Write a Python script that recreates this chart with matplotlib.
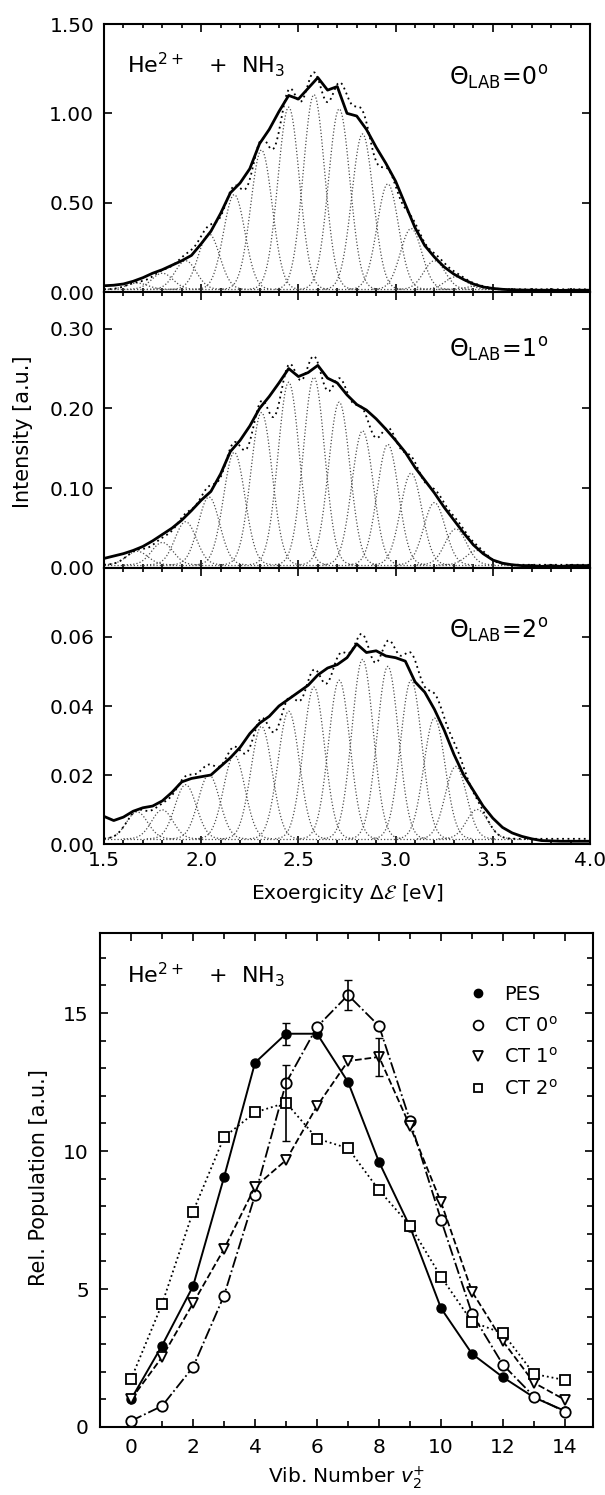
import numpy as np
import matplotlib.pyplot as plt
from matplotlib.lines import Line2D
from matplotlib.ticker import FormatStrFormatter, MultipleLocator

# energy grid of the read-off spectra (eV)
energy = np.round(np.arange(1.50, 4.001, 0.05), 2)

meas_0 = [0.035, 0.038, 0.045, 0.060, 0.080, 0.105, 0.125, 0.150, 0.175, 0.205,
          0.270, 0.340, 0.440, 0.555, 0.610, 0.690, 0.830, 0.910, 1.010, 1.100,
          1.080, 1.140, 1.200, 1.130, 1.150, 1.000, 0.985, 0.910, 0.810, 0.720,
          0.620, 0.490, 0.360, 0.260, 0.195, 0.140, 0.100, 0.070, 0.045, 0.028,
          0.020, 0.015, 0.012, 0.011, 0.010, 0.010, 0.010, 0.009, 0.010, 0.010,
          0.010]
meas_1 = [0.012, 0.015, 0.018, 0.022, 0.027, 0.034, 0.042, 0.050, 0.060, 0.072,
          0.085, 0.096, 0.118, 0.146, 0.160, 0.178, 0.200, 0.215, 0.232, 0.250,
          0.240, 0.245, 0.254, 0.238, 0.232, 0.217, 0.205, 0.198, 0.187, 0.174,
          0.160, 0.145, 0.126, 0.110, 0.094, 0.076, 0.060, 0.044, 0.029, 0.018,
          0.010, 0.006, 0.004, 0.003, 0.003, 0.002, 0.003, 0.002, 0.003, 0.003,
          0.003]
meas_2 = [0.0080, 0.0068, 0.0078, 0.0095, 0.0105, 0.0110, 0.0125, 0.0150, 0.0180, 0.0190,
          0.0195, 0.0200, 0.0225, 0.0250, 0.0280, 0.0320, 0.0350, 0.0370, 0.0400, 0.0420,
          0.0440, 0.0460, 0.0490, 0.0510, 0.0520, 0.0540, 0.0580, 0.0555, 0.0560, 0.0545,
          0.0540, 0.0530, 0.0470, 0.0440, 0.0390, 0.0330, 0.0260, 0.0200, 0.0155, 0.0110,
          0.0075, 0.0048, 0.0032, 0.0022, 0.0015, 0.0010, 0.0009, 0.0008, 0.0008, 0.0008,
          0.0008]

# fitted gaussian components, v = 0..14
centers = [3.42, 3.31, 3.20, 3.08, 2.96, 2.83, 2.71, 2.58, 2.45, 2.31, 2.17, 2.04, 1.92, 1.80, 1.67]
width = 0.055
amp_0 = [0.018, 0.07, 0.16, 0.34, 0.59, 0.87, 1.01, 1.09, 1.02, 0.78, 0.53, 0.31, 0.16, 0.09, 0.035]
amp_1 = [0.018, 0.045, 0.078, 0.115, 0.151, 0.168, 0.204, 0.235, 0.229, 0.191, 0.141, 0.085, 0.054, 0.028, 0.017]
amp_2 = [0.0085, 0.021, 0.035, 0.046, 0.050, 0.052, 0.046, 0.044, 0.037, 0.0326, 0.0243, 0.0186, 0.0157, 0.0084, 0.0078]
background = [0.015, 0.004, 0.0015]
angles = ['0', '1', '2']

# relative populations
vib = list(range(15))
pes = [1.0, 2.95, 5.1, 9.05, 13.2, 14.25, 14.25, 12.5, 9.6, 7.25, 4.3, 2.65, 1.8, 1.07, 0.58]
ct0 = [0.22, 0.76, 2.17, 4.76, 8.4, 12.47, 14.5, 15.65, 14.53, 11.1, 7.5, 4.1, 2.25, 1.1, 0.55]
ct1 = [1.0, 2.53, 4.48, 6.45, 8.7, 9.67, 11.63, 13.26, 13.41, 10.9, 8.14, 4.9, 3.1, 1.6, 0.98]
ct2 = [1.73, 4.45, 7.8, 10.5, 11.4, 11.75, 10.45, 10.1, 8.58, 7.3, 5.44, 3.81, 3.39, 1.92, 1.7]

plt.rcParams['font.family'] = ['DejaVu Sans']
plt.rcParams['mathtext.fontset'] = 'dejavusans'

W, H = 605, 1495
fig = plt.figure(figsize=(W / 100, H / 100), dpi=100)

def px_axes(left, top, right, bottom):
    return [left / W, 1 - bottom / H, (right - left) / W, (bottom - top) / H]

boxes = [px_axes(104, 24, 590, 292), px_axes(104, 292, 590, 568), px_axes(104, 568, 590, 844)]
ylims = [(0, 1.5), (0, 0.346), (0, 0.08)]
yticks = [[0, 0.5, 1.0, 1.5], [0, 0.1, 0.2, 0.3], [0, 0.02, 0.04, 0.06]]
text_y = [0.772, 0.764, 0.746]

fine = np.linspace(1.5, 4.0, 1001)
spec_axes = []
for i, (meas, amps) in enumerate(zip([meas_0, meas_1, meas_2], [amp_0, amp_1, amp_2])):
    ax = fig.add_axes(boxes[i])
    spec_axes.append(ax)
    bg = background[i]
    ax.plot([1.5, 3.75], [bg, bg], color='0.3', lw=0.9, ls=(0, (1, 1.6)))
    total = np.full_like(fine, bg)
    for c, a in zip(centers, amps):
        xs = np.linspace(c - 0.2, c + 0.2, 81)
        ax.plot(xs, bg + a * np.exp(-0.5 * ((xs - c) / width) ** 2),
                color='0.3', lw=0.9, ls=(0, (1, 1.6)))
        total += a * np.exp(-0.5 * ((fine - c) / width) ** 2)
    ax.plot(energy, meas, color='k', lw=2.0)
    ax.plot(fine, total, color='k', lw=1.3, ls=(0, (1, 2)))

    ax.set_xlim(1.5, 4.0)
    ax.set_ylim(*ylims[i])
    ax.set_yticks(yticks[i])
    ax.yaxis.set_major_formatter(FormatStrFormatter('%.2f'))
    ax.xaxis.set_major_locator(MultipleLocator(0.5))
    ax.xaxis.set_minor_locator(MultipleLocator(0.1))
    ax.tick_params(which='both', direction='in', top=True, right=True, labelsize=14.5, width=1.2)
    ax.tick_params(which='major', length=6, pad=7)
    ax.tick_params(which='minor', length=3)
    for s in ax.spines.values():
        s.set_linewidth(1.5)
    if i < 2:
        ax.tick_params(labelbottom=False)
    ax.text(0.71, text_y[i], r'$\Theta_{\mathrm{LAB}}\!=\!%s^{\mathrm{o}}$' % angles[i],
            transform=ax.transAxes, fontsize=17, ha='left', va='baseline')

spec_axes[2].tick_params(axis='x', pad=5)
spec_axes[0].text(0.047, 0.82, r'He$^{2+}$   +  NH$_3$', transform=spec_axes[0].transAxes,
                  fontsize=16, va='baseline')
spec_axes[2].set_xlabel(r'Exoergicity $\Delta\mathcal{E}$ [eV]', fontsize=14.5, labelpad=9)
fig.text(23 / W, 1 - 432 / H, 'Intensity [a.u.]', rotation=90, fontsize=15,
         ha='center', va='center')

# population plot
ax4 = fig.add_axes(px_axes(100, 933, 593, 1427))
ax4.plot(vib, pes, color='k', ls='-', lw=1.4, marker='o', mfc='k', mec='k', ms=6.5)
ax4.plot(vib, ct0, color='k', ls='-.', lw=1.3, marker='o', mfc='white', mec='k', mew=1.3, ms=7.5)
ax4.plot(vib, ct1, color='k', ls='--', lw=1.3, marker='v', mfc='white', mec='k', mew=1.3, ms=7.5)
ax4.plot(vib, ct2, color='k', ls=':', lw=1.3, marker='s', mfc='white', mec='k', mew=1.3, ms=6.5)
ax4.errorbar([5], [pes[5]], yerr=0.4, fmt='none', ecolor='k', elinewidth=1.2, capsize=3)
ax4.errorbar([7], [ct0[7]], yerr=0.55, fmt='none', ecolor='k', elinewidth=1.2, capsize=3)
ax4.errorbar([8], [ct1[8]], yerr=0.7, fmt='none', ecolor='k', elinewidth=1.2, capsize=3)
ax4.errorbar([5], [ct2[5]], yerr=1.37, fmt='none', ecolor='k', elinewidth=1.2, capsize=3)

ax4.set_xlim(-1, 14.9)
ax4.set_ylim(0, 17.9)
ax4.xaxis.set_major_locator(MultipleLocator(2))
ax4.xaxis.set_minor_locator(MultipleLocator(1))
ax4.yaxis.set_major_locator(MultipleLocator(5))
ax4.yaxis.set_minor_locator(MultipleLocator(1))
ax4.tick_params(which='both', direction='in', top=True, right=True, labelsize=14.5, width=1.2)
ax4.tick_params(which='major', length=6, pad=8)
ax4.tick_params(which='minor', length=4)
for s in ax4.spines.values():
    s.set_linewidth(1.5)
ax4.set_xlabel(r'Vib. Number $v_2^{+}$', fontsize=14.5, labelpad=5)
fig.text(39 / W, 1 - 1178 / H, 'Rel. Population [a.u.]', rotation=90, fontsize=15,
         ha='center', va='center')
ax4.text(0.055, 0.899, r'He$^{2+}$   +  NH$_3$', transform=ax4.transAxes,
         fontsize=16, va='baseline')

handles = [
    Line2D([], [], ls='none', marker='o', mfc='k', mec='k', ms=6, label='PES'),
    Line2D([], [], ls='none', marker='o', mfc='white', mec='k', mew=1.3, ms=7, label=r'CT 0$^{\mathrm{o}}$'),
    Line2D([], [], ls='none', marker='v', mfc='white', mec='k', mew=1.3, ms=7, label=r'CT 1$^{\mathrm{o}}$'),
    Line2D([], [], ls='none', marker='s', mfc='white', mec='k', mew=1.3, ms=6, label=r'CT 2$^{\mathrm{o}}$'),
]
ax4.legend(handles=handles, loc='upper left', bbox_to_anchor=(0.728, 0.915), frameon=False,
           fontsize=14, borderpad=0, handlelength=1.0, handletextpad=0.8, labelspacing=0.6)

fig.savefig('out.png', dpi=100)
